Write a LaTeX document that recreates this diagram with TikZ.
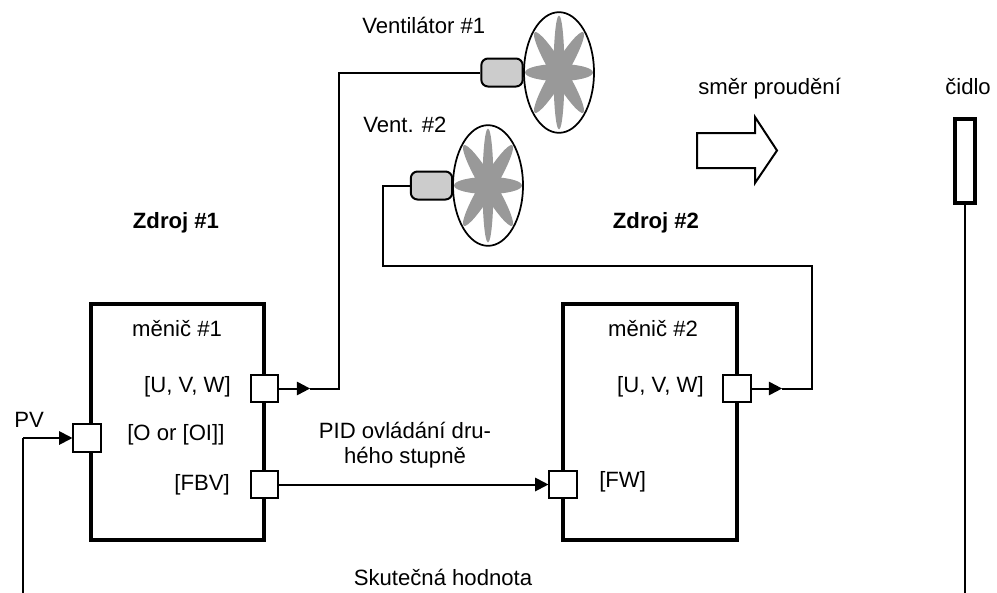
\documentclass[tikz,border=0pt]{standalone}
\usepackage{fontspec}
\setmainfont{Liberation Sans}
\usetikzlibrary{arrows.meta, shapes.geometric}

\definecolor{motorgrey}{RGB}{204,204,204}
\definecolor{petalgrey}{RGB}{153,153,153}

\tikzset{
  wire/.style={line width=1.5pt},
  tipped/.style={wire, -{Triangle[length=10pt,width=10pt]}, shorten >=-.1pt},
  drive/.style={draw, line width=3pt, minimum width=130pt, minimum height=177pt, inner sep=0pt},
  port/.style={draw, fill=white, line width=1.5pt, minimum size=20.5pt, inner sep=0pt},
  motor/.style={draw, fill=motorgrey, line width=1.5pt, rounded corners=5pt, minimum width=31pt, minimum height=21pt, inner sep=0pt},
  fan/.style={draw, ellipse, line width=1.3pt, minimum width=52.5pt, minimum height=90.5pt, inner sep=0pt},
  lab/.style={font=\fontsize{16.6pt}{20pt}\selectfont, inner sep=0pt},
  blab/.style={font=\fontsize{16.6pt}{20pt}\selectfont\bfseries, inner sep=0pt}
}

\begin{document}
\begin{tikzpicture}[x=.75pt,y=-.75pt]
\useasboundingbox (0,0) rectangle (997,593);

% drives
\node[drive] (drive1) at (177.5,421.5) {};
\node[drive] (drive2) at (650,421.5) {};

% ports
\node[port] (u1) at (264.5,388.5) {};
\node[port] (pv) at (87,438) {};
\node[port] (fbv) at (264.5,484.5) {};
\node[port] (u2) at (737,388.5) {};
\node[port] (fw) at (563,484.5) {};

% fans
\node[fan] (fan1) at (559,72.5) {};
\node[fan] (fan2) at (488,185.5) {};
\foreach \f in {fan1,fan2}
  \foreach \a/\r/\w in {0/34/8.5, 59/47/7.5, 90/57/5.5, 121/47/7.5}
    \fill[petalgrey, shift={(\f.center)}, rotate=\a] (0,0) ellipse (\r pt*.75 and \w pt*.75);

\node[motor] (motor1) at (502,72.5) {};
\node[motor] (motor2) at (431.5,185.5) {};

% wires
\coordinate (tip1) at (310,388.5);
\coordinate (c1) at (339,388.5);
\coordinate (c2) at (339,72.5);
\draw[tipped] (u1.east) -- (tip1);
\draw[wire] (tip1) -- (c1) -- (c2) -- (motor1.west);

\coordinate (tip2) at (782,388.5);
\coordinate (d1) at (812,388.5);
\coordinate (d2) at (812,266);
\coordinate (d3) at (383,266);
\coordinate (d4) at (383,185.5);
\draw[tipped] (u2.east) -- (tip2);
\draw[wire] (tip2) -- (d1) -- (d2) -- (d3) -- (d4) -- (motor2.west);

\draw[tipped] (fbv.east) -- (fw.west);

\coordinate (e1) at (23,593);
\coordinate (e2) at (23,438);
\draw[wire] (e1) -- (e2);
\draw[tipped] (e2) -- (pv.west);

% flow arrow
\coordinate (a1) at (697,133);
\coordinate (a2) at (755,133);
\coordinate (a3) at (755,117);
\coordinate (a4) at (777,150.5);
\coordinate (a5) at (755,183);
\coordinate (a6) at (755,168);
\coordinate (a7) at (697,168);
\draw[wire] (a1) -- (a2) -- (a3) -- (a4) -- (a5) -- (a6) -- (a7) -- cycle;

% sensor
\node[draw, line width=3pt, minimum width=15pt, minimum height=63.5pt, inner sep=0pt] (sensor) at (965,161) {};
\coordinate (e3) at (965,593);
\draw[wire] (sensor.south) -- (e3);

% labels
\node[lab, anchor=base west] (tvent1) at (362,33) {Ventilátor \#1};
\node[lab, anchor=base west] (tvent2) at (363,132) {Vent. \#2};
\node[blab, anchor=base] (tzdroj1) at (176,228) {Zdroj \#1};
\node[blab, anchor=base] (tzdroj2) at (656,228) {Zdroj \#2};
\node[lab, anchor=base west] (tflow) at (698,94) {směr proudění};
\node[lab, anchor=base west] (tsensor) at (945,94) {čidlo};
\node[lab, anchor=base] (tdrive1) at (177,336) {měnič \#1};
\node[lab, anchor=base] (tdrive2) at (653,336) {měnič \#2};
\node[lab, anchor=base east] (tu1) at (231,392) {[U, V, W]};
\node[lab, anchor=base east] (tu2) at (704,392) {[U, V, W]};
\node[lab, anchor=base west] (tol) at (127,440) {[O or [OI]]};
\node[lab, anchor=base east] (tfbv) at (230,490) {[FBV]};
\node[lab, anchor=base west] (tfw) at (599,487) {[FW]};
\node[lab, anchor=base west] (tpv) at (14,427) {PV};
\node[lab, anchor=base] (tpid1) at (405,438) {PID ovládání dru-};
\node[lab, anchor=base] (tpid2) at (405,463) {hého stupně};
\node[lab, anchor=base] (tact) at (443,585) {Skutečná hodnota};

\end{tikzpicture}
\end{document}
